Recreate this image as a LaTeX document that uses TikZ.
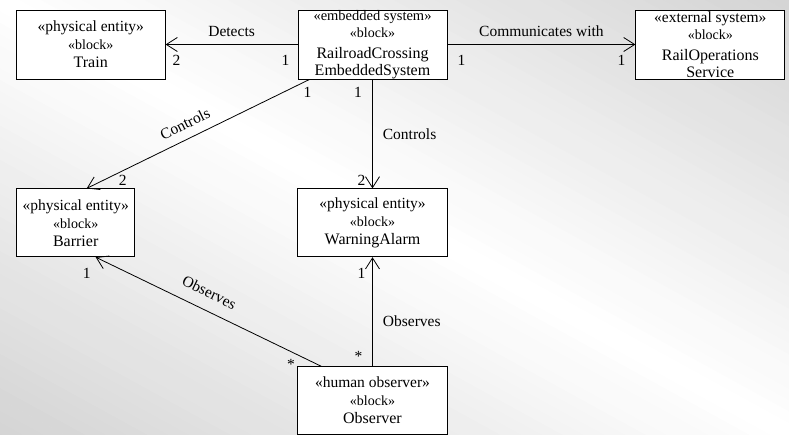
\documentclass[tikz,border=0pt]{standalone}
\usepackage{fontspec}
\setmainfont{Liberation Serif}
\usetikzlibrary{positioning, arrows.meta}

\newcommand{\stereo}[1]{{\fontsize{15.5}{17}\selectfont «#1»}}
\newcommand{\blk}{{\fontsize{14}{17}\selectfont «block»}}

\begin{document}
\begin{tikzpicture}[
    x=1pt, y=1pt,
    block/.style={rectangle, draw, fill=white, line width=0.8pt, minimum width=149pt, minimum height=69pt, align=center, inner sep=0pt, font=\fontsize{16}{18}\selectfont},
    arr/.style={-{Straight Barb[length=11pt, width=14pt]}, line width=0.8pt},
    rarr/.style={{Straight Barb[length=11pt, width=14pt]}-, line width=0.8pt},
    lbl/.style={font=\fontsize{15.5}{18}\selectfont, inner sep=2pt},
    mult/.style={font=\fontsize{15.5}{18}\selectfont, inner sep=1pt}
]
    % background: light band along the diagonal, grey towards two corners
    \begin{scope}
        \clip (0,0) rectangle (789,-434);
        \begin{scope}[rotate around={-28.8:(394.5,-217)}]
            \foreach \i in {-50,...,49} {
                \pgfmathtruncatemacro\bgshade{0.09*abs(\i*10+5)}
                \fill[gray!\bgshade] (-300,{-217+\i*10}) rectangle (1100,{-206.5+\i*10});
            }
        \end{scope}
    \end{scope}
    \useasboundingbox (0,0) rectangle (789,-434);

    \node[block, font=\fontsize{16}{17}\selectfont] (rc) at (372.5,-44.5) {{\fontsize{14.5}{17}\selectfont «embedded system»}\\\blk\\[4pt]RailroadCrossing\\EmbeddedSystem};
    \node[block, left=132pt of rc] (train) {\stereo{physical entity}\\\blk\\Train};
    \node[block, font=\fontsize{16}{17}\selectfont, right=188pt of rc] (ops) {\stereo{external system}\\\blk\\[4pt]RailOperations\\Service};
    \node[block, minimum width=150pt, minimum height=68pt, below=109pt of rc] (alarm) {\stereo{physical entity}\\\blk\\WarningAlarm};
    \node[block, minimum width=118pt, minimum height=68pt, left=162pt of alarm] (barrier) {\stereo{physical entity}\\\blk\\Barrier};
    \node[block, minimum width=150pt, minimum height=68pt, below=109pt of alarm] (observer) {\stereo{human observer}\\\blk\\Observer};

    \draw[arr] (rc) -- node[lbl, above=5pt] (detects) {Detects} (train);
    \draw[arr] (rc) -- node[lbl, above=5pt] (comm) {Communicates with} (ops);
    \draw[rarr] ([xshift=11pt]barrier.north) -- node[lbl, sloped, above=7pt, pos=0.47] (ctrlb) {Controls} ([xshift=12pt]rc.south west);
    \draw[arr] (rc) -- node[lbl, right=8pt] (ctrlw) {Controls} (alarm);
    \draw[rarr] ([xshift=20pt]barrier.south) -- node[lbl, sloped, above=10pt, pos=0.47] (obsb) {Observes} ([xshift=24pt]observer.north west);
    \draw[arr] (observer) -- node[lbl, right=8pt, pos=0.41] (obsw) {Observes} (alarm);

    % multiplicities
    \node[mult] (m1) at ([shift={(-12,-15.5)}]rc.west) {1};
    \node[mult] (m2) at ([shift={(11,-15.5)}]train.east) {2};
    \node[mult] (m3) at ([shift={(14,-15.5)}]rc.east) {1};
    \node[mult] (m4) at ([shift={(-14,-15.5)}]ops.west) {1};
    \node[mult] (m5) at ([shift={(10,-13)}]rc.south west) {1};
    \node[mult] (m6) at ([shift={(47,8)}]barrier.north) {2};
    \node[mult] (m7) at ([shift={(-14.5,-13)}]rc.south) {1};
    \node[mult] (m8) at ([shift={(-11,8)}]alarm.north) {2};
    \node[mult] (m9) at ([shift={(11,-16)}]barrier.south) {1};
    \node[mult] (m10) at ([shift={(-6,2)}]observer.north west) {*};
    \node[mult] (m11) at ([shift={(-11,-16)}]alarm.south) {1};
    \node[mult] (m12) at ([shift={(-14,10)}]observer.north) {*};
\end{tikzpicture}
\end{document}
